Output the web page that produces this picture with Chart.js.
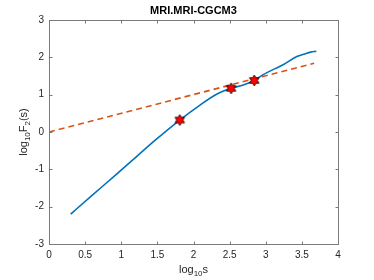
<!DOCTYPE html>
<html>
<head>
<meta charset="utf-8">
<script src="https://cdn.jsdelivr.net/npm/chart.js@4/dist/chart.umd.min.js"></script>
<style>
  html, body { margin: 0; padding: 0; background: #fff; }
  #wrap { width: 374px; height: 280px; }
</style>
</head>
<body>
<div id="wrap"><canvas id="c" width="374" height="280"></canvas></div>
<script>
// fluctuation function (log-log)
var curveX = [0.30, 0.60, 0.90, 1.20, 1.47, 1.81, 2.09, 2.32, 2.52, 2.69, 2.84, 2.96, 3.10, 3.24, 3.43, 3.54, 3.62, 3.70];
var curveY = [-2.20, -1.69, -1.19, -0.68, -0.22, 0.32, 0.72, 1.01, 1.17, 1.26, 1.38, 1.53, 1.67, 1.80, 2.02, 2.09, 2.14, 2.16];
// crossover points
var starX = [1.81, 2.52, 2.84];
var starY = [0.32, 1.17, 1.38];
// reference fit line
var fitX = [0, 3.67];
var fitY = [0, 1.84];

var xTicks = [0, 0.5, 1, 1.5, 2, 2.5, 3, 3.5, 4];
var yTicks = [-3, -2, -1, 0, 1, 2, 3];

function pairs(xs, ys) {
    return xs.map(function (x, i) { return { x: x, y: ys[i] }; });
}

// hexagram marker
function hexagram(r) {
    var s = Math.ceil(r * 2 + 4);
    var cv = document.createElement('canvas');
    cv.width = s; cv.height = s;
    var g = cv.getContext('2d');
    var c = s / 2, ri = r / Math.sqrt(3);
    g.beginPath();
    for (var i = 0; i < 12; i++) {
        var a = -Math.PI / 2 + i * Math.PI / 6;
        var rr = i % 2 === 0 ? r : ri;
        var px = c + rr * Math.cos(a), py = c + rr * Math.sin(a);
        if (i === 0) g.moveTo(px, py); else g.lineTo(px, py);
    }
    g.closePath();
    g.fillStyle = '#ff0000';
    g.fill();
    g.lineWidth = 0.8;
    g.strokeStyle = '#000';
    g.stroke();
    return cv;
}

var FONT = "'Liberation Sans', Arial, Helvetica, sans-serif";
var TXT = '#262626';

// box, inward ticks, title and axis labels
var matlabAxes = {
    id: 'matlabAxes',
    afterDraw: function (chart) {
        var ctx = chart.ctx, a = chart.chartArea;
        var xs = chart.scales.x, ys = chart.scales.y;
        var L = Math.round(a.left) + 0.5, R = Math.round(a.right) + 0.5;
        var T = Math.round(a.top) + 0.5, B = Math.round(a.bottom) + 0.5;
        ctx.save();
        ctx.strokeStyle = '#7a7a7a';
        ctx.lineWidth = 1;
        ctx.strokeRect(L, T, R - L, B - T);
        ctx.beginPath();
        xTicks.forEach(function (v) {
            var px = Math.round(xs.getPixelForValue(v)) + 0.5;
            ctx.moveTo(px, B); ctx.lineTo(px, B - 3);
            ctx.moveTo(px, T); ctx.lineTo(px, T + 3);
        });
        yTicks.forEach(function (v) {
            var py = Math.round(ys.getPixelForValue(v)) + 0.5;
            ctx.moveTo(L, py); ctx.lineTo(L + 3, py);
            ctx.moveTo(R, py); ctx.lineTo(R - 3, py);
        });
        ctx.stroke();

        ctx.fillStyle = '#000';
        ctx.font = 'bold 11px ' + FONT;
        ctx.textAlign = 'center';
        ctx.textBaseline = 'middle';
        ctx.fillText('MRI.MRI-CGCM3', (a.left + a.right) / 2, 11);

        ctx.fillStyle = TXT;
        ctx.textBaseline = 'alphabetic';
        // x label: log10s
        drawSub(ctx, [['log', 0], ['10', 1], ['s', 0]], (a.left + a.right) / 2, 273);
        // y label: log10F2(s)
        ctx.save();
        ctx.translate(27, (a.top + a.bottom) / 2);
        ctx.rotate(-Math.PI / 2);
        drawSub(ctx, [['log', 0], ['10', 1], ['F', 0], ['2', 1], ['(s)', 0]], 0, 0);
        ctx.restore();
        ctx.restore();
    }
};

function drawSub(ctx, parts, cx, base) {
    var big = '11px ' + FONT, small = '8px ' + FONT;
    var w = 0;
    parts.forEach(function (p) {
        ctx.font = p[1] ? small : big;
        w += ctx.measureText(p[0]).width;
    });
    var x = cx - w / 2;
    ctx.textAlign = 'left';
    parts.forEach(function (p) {
        ctx.font = p[1] ? small : big;
        ctx.fillText(p[0], x, base + (p[1] ? 3 : 0));
        x += ctx.measureText(p[0]).width;
    });
}

new Chart(document.getElementById('c'), {
    type: 'scatter',
    data: {
        datasets: [
            {
                data: pairs(starX, starY),
                pointStyle: hexagram(5.5),
                pointRadius: 5,
                showLine: false
            },
            {
                data: pairs(curveX, curveY),
                showLine: true,
                borderColor: '#0072BD',
                borderWidth: 1.6,
                pointRadius: 0,
                cubicInterpolationMode: 'monotone'
            },
            {
                data: pairs(fitX, fitY),
                showLine: true,
                borderColor: '#D95319',
                borderWidth: 1.6,
                borderDash: [6, 4],
                pointRadius: 0
            }
        ]
    },
    options: {
        responsive: false,
        animation: false,
        layout: { padding: { top: 20, right: 36, left: 0, bottom: 0 } },
        plugins: { legend: { display: false }, tooltip: { enabled: false } },
        scales: {
            x: {
                type: 'linear', min: 0, max: 4,
                afterBuildTicks: function (s) { s.ticks = xTicks.map(function (v) { return { value: v }; }); },
                afterFit: function (s) { s.height = 36; },
                grid: { display: false, drawTicks: false },
                border: { display: false },
                ticks: {
                    padding: 5, color: TXT, maxRotation: 0,
                    font: { family: FONT, size: 10 },
                    callback: function (v) { return String(v); }
                }
            },
            y: {
                type: 'linear', min: -3, max: 3,
                afterBuildTicks: function (s) { s.ticks = yTicks.map(function (v) { return { value: v }; }); },
                afterFit: function (s) { s.width = 49; },
                grid: { display: false, drawTicks: false },
                border: { display: false },
                ticks: {
                    padding: 5, color: TXT,
                    font: { family: FONT, size: 10 },
                    callback: function (v) { return String(v); }
                }
            }
        }
    },
    plugins: [matlabAxes]
});
</script>
</body>
</html>
